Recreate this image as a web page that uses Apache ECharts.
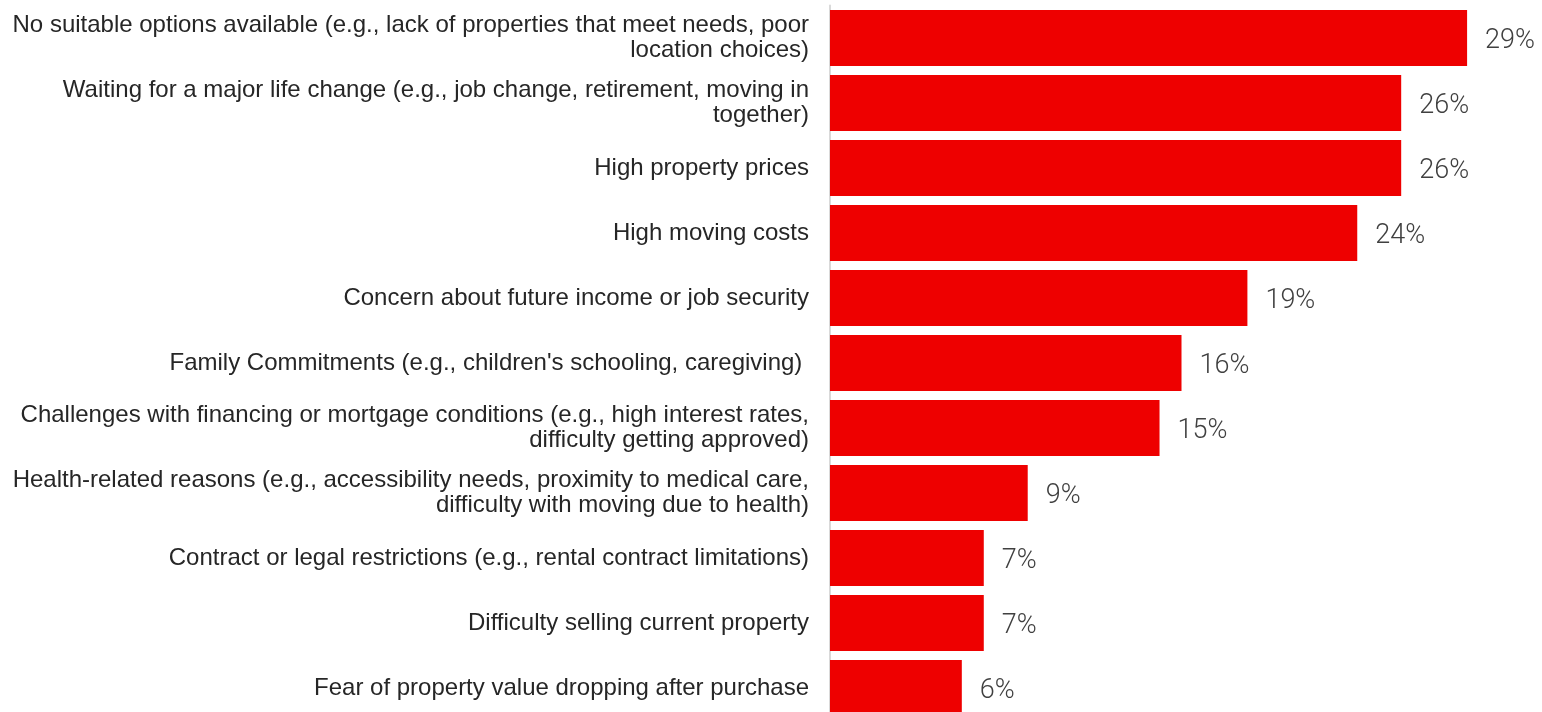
<!DOCTYPE html>
<html>
<head>
<meta charset="utf-8">
<script src="https://cdn.jsdelivr.net/npm/echarts@6/dist/echarts.min.js"></script>
<style>
html, body { margin: 0; padding: 0; background: #fff; }
#main { width: 1542px; height: 712px; }
</style>
</head>
<body>
<div id="main"></div>
<script>
// 类别（从上到下）
var categories = [
	'No suitable options available (e.g., lack of properties that meet needs, poor\nlocation choices)',
	'Waiting for a major life change (e.g., job change, retirement, moving in\ntogether)',
	'High property prices',
	'High moving costs',
	'Concern about future income or job security',
	'Family Commitments (e.g., children\'s schooling, caregiving) ',
	'Challenges with financing or mortgage conditions (e.g., high interest rates,\ndifficulty getting approved)',
	'Health-related reasons (e.g., accessibility needs, proximity to medical care,\ndifficulty with moving due to health)',
	'Contract or legal restrictions (e.g., rental contract limitations)',
	'Difficulty selling current property',
	'Fear of property value dropping after purchase'
];
var values = [29, 26, 26, 24, 19, 16, 15, 9, 7, 7, 6];

var myChart = echarts.init(document.getElementById('main'));
var option = {
	animation: false,
	grid: {
		left: 830,
		right: 9,
		top: 5.5,
		height: 715,
		outerBoundsMode: 'none'
	},
	xAxis: {
		type: 'value',
		min: 0,
		max: 32,
		show: false
	},
	yAxis: {
		type: 'category',
		inverse: true,
		data: categories,
		axisTick: { show: false },
		axisLine: {
			show: true,
			lineStyle: { color: '#d9d9d9', width: 2 }
		},
		axisLabel: {
			margin: 21,
			padding: [4, 0, 0, 0],
			fontFamily: 'Liberation Sans, Arial, sans-serif',
			fontSize: 24,
			lineHeight: 25,
			color: '#262626',
			align: 'right'
		}
	},
	series: [{
		type: 'bar',
		data: values,
		barCategoryGap: '13.8%',
		itemStyle: { color: '#ee0000' },
		label: {
			show: true,
			position: 'right',
			distance: 18,
			offset: [0, 3],
			formatter: '{c}%',
			fontFamily: 'Roboto, sans-serif',
			fontWeight: 300,
			fontSize: 27,
			color: '#404040'
		}
	}]
};
myChart.setOption(option);
</script>
</body>
</html>
